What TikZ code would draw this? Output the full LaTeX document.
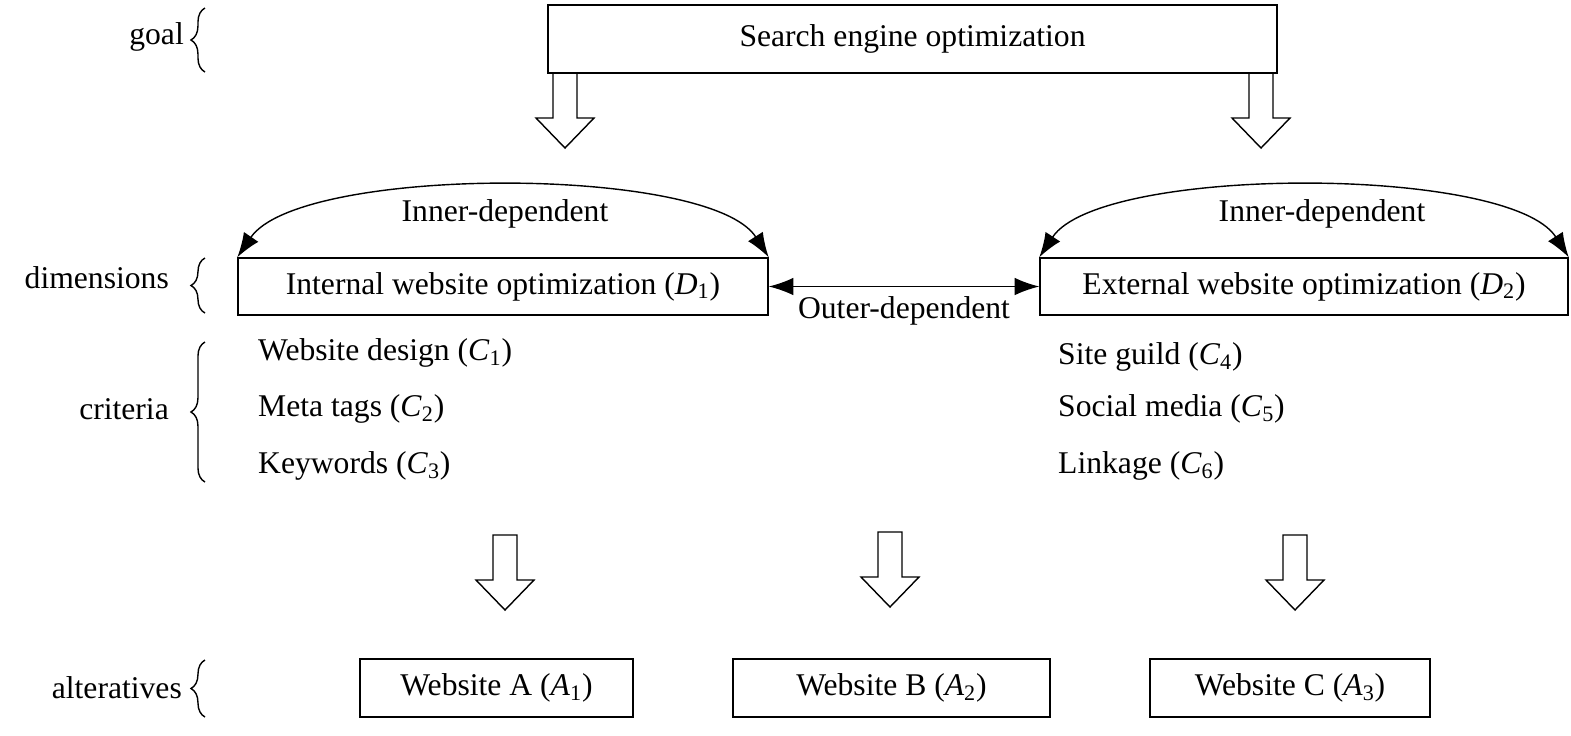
\documentclass[tikz,border=0pt]{standalone}
\usepackage{fontspec}
\setmainfont{Liberation Serif}
\usetikzlibrary{arrows.meta,decorations.pathreplacing,calc}
\tikzset{
  box/.style={draw,thick,minimum height=58pt,inner sep=0pt},
  lbl/.style={font=\fontsize{18}{22}\selectfont},
  crit/.style={lbl,anchor=west},
  dep/.style={thick,{Latex[length=14pt,width=10pt]}-{Latex[length=14pt,width=10pt]}},
  brc/.style={thick,decoration={brace,amplitude=8pt},decorate}
}
% hollow block arrow pointing down, top centre at #1
\def\blockArrow#1{
\draw[thick] ($#1+(-12,0)$) -- ($#1+(12,0)$) -- ($#1+(12,45)$) -- ($#1+(29,45)$)
  -- ($#1+(0,75)$) -- ($#1+(-29,45)$) -- ($#1+(-12,45)$) -- cycle;
}
\begin{document}
\begin{tikzpicture}[x=0.02cm,y=-0.02cm]
  \useasboundingbox (0,0) rectangle (1571,735);
  \node[box,lbl,minimum width=729*0.02cm,minimum height=68*0.02cm] (goal) at (912.5,39) {Search engine optimization};
  \blockArrow{(565,73)}
  \blockArrow{(1261,73)}
  \node[box,lbl,minimum width=530*0.02cm,minimum height=57*0.02cm] (d1) at (503,286.5) {Internal website optimization (\textit{D}\textsubscript{1})};
  \node[box,lbl,minimum width=528*0.02cm,minimum height=57*0.02cm] (d2) at (1304,286.5) {External website optimization (\textit{D}\textsubscript{2})};
  \draw[dep] (d1.north west) .. controls (300,165) and (710,165) .. (d1.north east);
  \draw[dep] (d2.north west) .. controls (1100,165) and (1510,165) .. (d2.north east);
  \node[lbl] (in1) at (505,214) {Inner-dependent};
  \node[lbl] (in2) at (1322,214) {Inner-dependent};
  \draw[dep] (d1) -- (d2) node[lbl,midway,below=2pt] (outer) {Outer-dependent};
  % criteria
  \node[crit] (c1) at (252,353) {Website design (\textit{C}\textsubscript{1})};
  \node[crit] (c2) at (252,409) {Meta tags (\textit{C}\textsubscript{2})};
  \node[crit] (c3) at (252,466) {Keywords (\textit{C}\textsubscript{3})};
  \node[crit] (c4) at (1052,357) {Site guild (\textit{C}\textsubscript{4})};
  \node[crit] (c5) at (1052,409) {Social media (\textit{C}\textsubscript{5})};
  \node[crit] (c6) at (1052,466) {Linkage (\textit{C}\textsubscript{6})};
  \blockArrow{(505,535)}
  \blockArrow{(890,532)}
  \blockArrow{(1295,535)}
  % alternatives
  \node[box,lbl,minimum width=273*0.02cm,minimum height=58*0.02cm] (a1) at (496.5,688) {Website A (\textit{A}\textsubscript{1})};
  \node[box,lbl,minimum width=317*0.02cm,minimum height=58*0.02cm] (a2) at (891.5,688) {Website B (\textit{A}\textsubscript{2})};
  \node[box,lbl,minimum width=280*0.02cm,minimum height=58*0.02cm] (a3) at (1290,688) {Website C (\textit{A}\textsubscript{3})};
  % levels
  \node[lbl,anchor=east] (lgoal) at (190,37) {goal};
  \node[lbl,anchor=east] (ldim) at (175,278) {dimensions};
  \node[lbl,anchor=east] (lcrit) at (175,409) {criteria};
  \node[lbl,anchor=east] (lalt) at (188,688) {alteratives};
  \draw[brc] (205,72) -- (205,8);
  \draw[brc] (205,313) -- (205,258);
  \draw[brc] (205,482) -- (205,342);
  \draw[brc] (205,717) -- (205,660);
\end{tikzpicture}
\end{document}
